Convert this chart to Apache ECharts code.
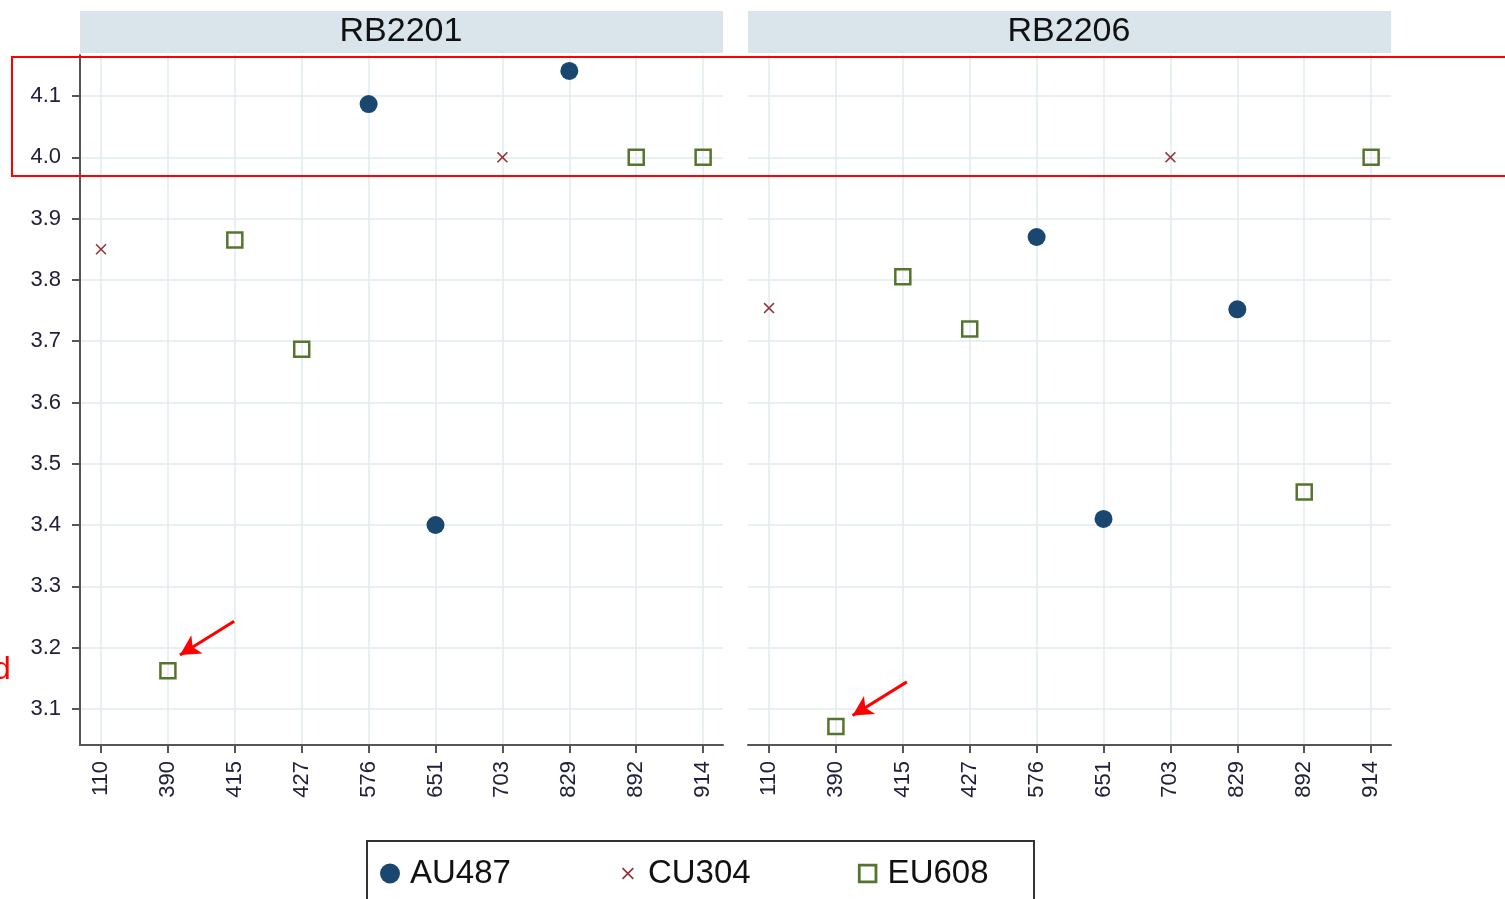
<!DOCTYPE html>
<html>
<head>
<meta charset="utf-8">
<script src="https://cdn.jsdelivr.net/npm/echarts@6/dist/echarts.min.js"></script>
<style>
  html, body { margin: 0; padding: 0; background: #fff; }
  #chart { width: 1505px; height: 899px; }
</style>
</head>
<body>
<div id="chart"></div>
<script>
// 分类与数据
const categories = ['110', '390', '415', '427', '576', '651', '703', '829', '892', '914'];
const yTicks = [3.1, 3.2, 3.3, 3.4, 3.5, 3.6, 3.7, 3.8, 3.9, 4.0, 4.1];
const panels = ['RB2201', 'RB2206'];

// RB2201
const au487_2201 = [['576', 4.087], ['651', 3.400], ['829', 4.141]];
const cu304_2201 = [['110', 3.850], ['703', 4.000]];
const eu608_2201 = [['390', 3.162], ['415', 3.865], ['427', 3.687], ['892', 4.000], ['914', 4.000]];

// RB2206
const au487_2206 = [['576', 3.870], ['651', 3.410], ['829', 3.752]];
const cu304_2206 = [['110', 3.754], ['703', 4.000]];
const eu608_2206 = [['390', 3.071], ['415', 3.805], ['427', 3.720], ['892', 3.454], ['914', 4.000]];

const NAVY = '#1a476f', MAROON = '#90353b', GREEN = '#55752f';
const GRIDC = '#e2ebef', AXISC = '#555555', TXT = '#20203a';
const FONT = '"Liberation Sans", Arial, sans-serif';
const X_PATH = 'path://M0,1L1,0L5,4L9,0L10,1L6,5L10,9L9,10L5,6L1,10L0,9L4,5Z';
// 图例图标: 30x20 的框, 两角的极小三角形只用来撑开边界
const CORNERS = 'M0,0L0.05,0L0,0.05Z M30,20L29.95,20L30,19.95Z ';
const X_LEGEND = 'path://' + CORNERS + 'M9,5.2L10.2,4L15,8.8L19.8,4L21,5.2L16.2,10L21,14.8L19.8,16L15,11.2L10.2,16L9,14.8L13.8,10Z';
const SQ_LEGEND = 'path://' + CORNERS + 'M5.25,0.25L24.75,0.25L24.75,19.75L5.25,19.75Z M8.05,3.05L8.05,16.95L21.95,16.95L21.95,3.05Z';

const toXY = arr => arr.map(d => [categories.indexOf(d[0]), d[1]]);

const chart = echarts.init(document.getElementById('chart'));

function xAxisFor(i) {
  return {
    type: 'value', gridIndex: i, min: -0.314, max: 9.297,
    axisLine: { show: true, onZero: false, lineStyle: { color: AXISC, width: 2 } },
    axisTick: { show: true, length: 8, customValues: categories.map((c, k) => k), lineStyle: { color: AXISC, width: 2 } },
    axisLabel: {
      customValues: categories.map((c, k) => k),
      formatter: v => categories[Math.round(v)],
      rotate: 90, margin: 16, fontSize: 22, color: TXT, fontFamily: FONT
    },
    splitLine: { show: true, lineStyle: { color: GRIDC, width: 1.5 } }
  };
}

function yAxisFor(i) {
  return {
    type: 'value', gridIndex: i, min: 3.041, max: 4.167,
    axisLine: { show: i === 0, onZero: false, lineStyle: { color: AXISC, width: 2 } },
    axisTick: { show: i === 0, length: 8, customValues: yTicks, lineStyle: { color: AXISC, width: 2 } },
    axisLabel: {
      show: i === 0, customValues: yTicks,
      formatter: v => v.toFixed(1),
      margin: 19, fontSize: 22, color: TXT, fontFamily: FONT
    },
    splitLine: { show: true, lineStyle: { color: GRIDC, width: 1.5 } }
  };
}

function seriesFor(i, au, cu, eu, arrow) {
  return [
    {
      name: 'AU487', type: 'scatter', xAxisIndex: i, yAxisIndex: i,
      symbol: 'circle', symbolSize: 18, itemStyle: { color: NAVY, opacity: 1 },
      data: toXY(au)
    },
    {
      name: 'CU304', type: 'scatter', xAxisIndex: i, yAxisIndex: i,
      symbol: X_PATH, symbolSize: 11, itemStyle: { color: MAROON, opacity: 1 },
      data: toXY(cu)
    },
    {
      name: 'EU608', type: 'scatter', xAxisIndex: i, yAxisIndex: i,
      symbol: 'rect', symbolSize: 15,
      itemStyle: { color: 'rgba(0,0,0,0)', borderColor: GREEN, borderWidth: 2.5, opacity: 1 },
      data: toXY(eu),
      // 红色箭头标注
      markLine: {
        silent: true, animation: false,
        symbol: ['none', 'arrow'], symbolSize: [16, 20],
        label: { show: false },
        lineStyle: { color: '#ff0000', width: 3, type: 'solid' },
        data: [[{ coord: arrow[0] }, { coord: arrow[1] }]]
      }
    }
  ];
}

const option = {
  backgroundColor: '#fff',
  animation: false,
  grid: [
    { left: 80, top: 55, width: 643, height: 690 },
    { left: 748, top: 55, width: 643, height: 690 }
  ],
  xAxis: [xAxisFor(0), xAxisFor(1)],
  yAxis: [yAxisFor(0), yAxisFor(1)],
  legend: {
    left: 375, top: 852,
    itemWidth: 30, itemHeight: 20, itemGap: 102,
    textStyle: { fontSize: 33, color: '#111', fontFamily: FONT },
    data: [
      { name: 'AU487', icon: 'circle', itemStyle: { color: NAVY, opacity: 1 } },
      { name: 'CU304', icon: X_LEGEND, itemStyle: { color: MAROON, opacity: 1 } },
      { name: 'EU608', icon: SQ_LEGEND, itemStyle: { color: GREEN, borderWidth: 0, opacity: 1 } }
    ]
  },
  graphic: [
    // 面板标题
    { type: 'rect', shape: { x: 80, y: 11, width: 643, height: 42 }, style: { fill: '#d9e5eb' }, silent: true },
    { type: 'rect', shape: { x: 748, y: 11, width: 643, height: 42 }, style: { fill: '#d9e5eb' }, silent: true },
    { type: 'text', x: 401, y: 32, style: { text: panels[0], font: '34px ' + FONT, fill: '#111', align: 'center', verticalAlign: 'middle' }, silent: true },
    { type: 'text', x: 1069, y: 32, style: { text: panels[1], font: '34px ' + FONT, fill: '#111', align: 'center', verticalAlign: 'middle' }, silent: true },
    // 图例边框
    { type: 'rect', shape: { x: 367, y: 841, width: 667, height: 80 }, style: { fill: 'none', stroke: '#333', lineWidth: 2 }, silent: true },
    // 红色框
    { type: 'rect', shape: { x: 12, y: 57, width: 1500, height: 119 }, style: { fill: 'none', stroke: '#ff0000', lineWidth: 2 }, z: 100, silent: true },
    { type: 'text', x: -7, y: 670, style: { text: 'd', font: '32px ' + FONT, fill: '#ff0000', verticalAlign: 'middle' }, silent: true }
  ],
  series: [
    ...seriesFor(0, au487_2201, cu304_2201, eu608_2201, [[1.99, 3.243], [1.18, 3.188]]),
    ...seriesFor(1, au487_2206, cu304_2206, eu608_2206, [[2.06, 3.144], [1.25, 3.089]])
  ]
};

chart.setOption(option);
</script>
</body>
</html>
